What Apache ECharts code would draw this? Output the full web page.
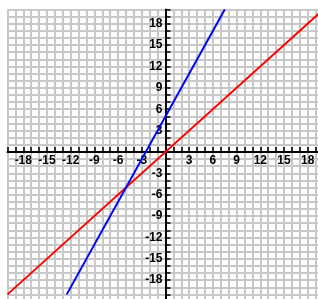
<!DOCTYPE html>
<html>
<head>
<meta charset="utf-8">
<script src="https://cdn.jsdelivr.net/npm/echarts@6/dist/echarts.min.js"></script>
<style>
  html, body { margin: 0; padding: 0; background: #fff; }
  #chartingArea { width: 318px; height: 299px; }
</style>
</head>
<body>
<div id="chartingArea"></div>
<script>
// line endpoints
const blueLine = [[-12.5, -20], [7.5, 20]];
const redLine = [[-20, -20], [20, 20]];
const xRange = [-20, 20];
const yRange = [-21, 20];
const tickStep = 1;
const labelStep = 3;

const W = 318, H = 299;
const gridBox = { left: 7.5, right: -5.5, top: 9.5, bottom: -2.5 };
const plotW = W - gridBox.left - gridBox.right;
const plotH = H - gridBox.top - gridBox.bottom;
// move the axes to the zero lines (labels go with them)
const xOffset = -plotH * (0 - yRange[0]) / (yRange[1] - yRange[0]);
const yOffset = -plotW * (0 - xRange[0]) / (xRange[1] - xRange[0]);

const labelFmt = v => (v !== 0 && v % labelStep === 0 && Math.abs(v) <= 18) ? String(v) : '';

const axisCommon = {
  type: 'value',
  interval: tickStep,
  axisLine: { onZero: false, lineStyle: { color: '#000', width: 2 } },
  axisTick: { show: true, inside: true, length: 5, lineStyle: { color: '#000', width: 1.5 } },
  splitLine: { show: true, lineStyle: { color: '#c8c8c8', width: 2 } },
  axisLabel: {
    formatter: labelFmt,
    color: '#000',
    fontFamily: 'Liberation Sans',
    fontWeight: 'bold',
    fontSize: 12,
    margin: 3
  }
};

const myChart = echarts.init(document.getElementById('chartingArea'));
myChart.setOption({
  animation: false,
  backgroundColor: '#fff',
  grid: Object.assign({ containLabel: false, outerBoundsMode: 'none' }, gridBox),
  xAxis: Object.assign({}, axisCommon, { position: 'bottom', offset: xOffset, min: xRange[0], max: xRange[1] }),
  yAxis: Object.assign({}, axisCommon, { position: 'left', offset: yOffset, min: yRange[0], max: yRange[1] }),
  series: [
    {
      type: 'line',
      data: redLine,
      showSymbol: false,
      clip: true,
      lineStyle: { color: '#ff0000', width: 2 },
      z: 3
    },
    {
      type: 'line',
      data: blueLine,
      showSymbol: false,
      clip: true,
      lineStyle: { color: '#0000ff', width: 2 },
      z: 4
    }
  ]
});
</script>
</body>
</html>
